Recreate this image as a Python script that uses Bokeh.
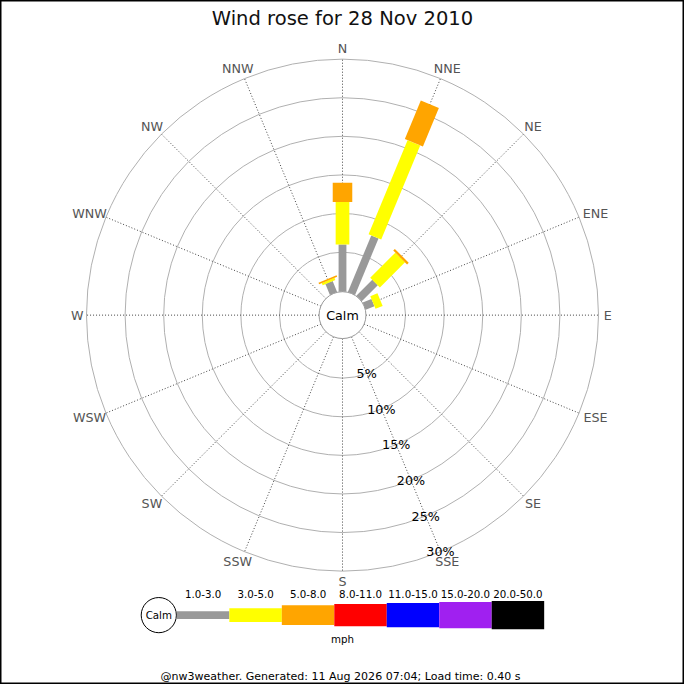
import math
from bokeh.plotting import figure
from bokeh.models import Range1d
from bokeh.core.properties import value
from bokeh.embed import file_html
from bokeh.resources import INLINE

title = "Wind rose for 28 Nov 2010"
footer = "@nw3weather. Generated: 11 Aug 2026 07:04; Load time: 0.40 s"

directions = ["N", "NNE", "NE", "ENE", "E", "ESE", "SE", "SSE",
              "S", "SSW", "SW", "WSW", "W", "WNW", "NW", "NNW"]
speed_bands = ["1.0-3.0", "3.0-5.0", "5.0-8.0", "8.0-11.0",
               "11.0-15.0", "15.0-20.0", "20.0-50.0"]
band_colors = ["#999999", "#ffff00", "#ffa500", "#ff0000",
               "#0000ff", "#a020f0", "#000000"]

# percent of the day's readings, per direction, for each speed band (mph)
pct_1_3 = [6.0, 7.8, 2.8, 1.1, 0, 0, 0, 0, 0, 0, 0, 0, 0, 0, 0, 1.4]
pct_3_5 = [5.5, 13.2, 4.6, 1.0, 0, 0, 0, 0, 0, 0, 0, 0, 0, 0, 0, 0.3]
pct_5_8 = [2.5, 5.4, 0.3, 0, 0, 0, 0, 0, 0, 0, 0, 0, 0, 0, 0, 0.2]
pct_8_11 = [0, 0, 0, 0, 0, 0, 0, 0, 0, 0, 0, 0, 0, 0, 0, 0]
pct_11_15 = [0, 0, 0, 0, 0, 0, 0, 0, 0, 0, 0, 0, 0, 0, 0, 0]
pct_15_20 = [0, 0, 0, 0, 0, 0, 0, 0, 0, 0, 0, 0, 0, 0, 0, 0]
pct_20_50 = [0, 0, 0, 0, 0, 0, 0, 0, 0, 0, 0, 0, 0, 0, 0, 0]
band_pcts = [pct_1_3, pct_3_5, pct_5_8, pct_8_11, pct_11_15, pct_15_20, pct_20_50]

ring_pcts = [5, 10, 15, 20, 25, 30]
ring_labels = ["5%", "10%", "15%", "20%", "25%", "30%"]

# geometry: 700 data units across the 684 px canvas, origin at the rose centre
SIZE = 684
S = SIZE / 700.0
R0 = 25.0          # radius of 0 %
K = 7.9            # units per percent
CALM_R = 24.0
BAR_W = [8, 14, 20, 23, 25, 27, 29]
FONT = value("DejaVu Sans")


def fs(px):
    return "%.2fpx" % (px * S)


def rad(pct):
    return R0 + pct * K


R_OUT = rad(ring_pcts[-1])

p = figure(width=SIZE, height=SIZE, x_range=Range1d(-350, 350), y_range=Range1d(-378, 322),
           x_axis_type=None, y_axis_type=None, toolbar_location=None,
           output_backend="svg", min_border=0)
p.grid.visible = False
p.outline_line_color = "black"
p.outline_line_width = 2
p.background_fill_color = "white"
p.border_fill_color = "white"

# rings
p.circle(x=[0] * len(ring_pcts), y=[0] * len(ring_pcts), radius=[rad(v) for v in ring_pcts],
         fill_color=None, line_color="#b0b0b0", line_width=1)

# spokes
angles = [math.radians(i * 22.5) for i in range(len(directions))]
sx = [math.sin(a) for a in angles]
cy = [math.cos(a) for a in angles]
p.segment(x0=[CALM_R * s for s in sx], y0=[CALM_R * c for c in cy],
          x1=[R_OUT * s for s in sx], y1=[R_OUT * c for c in cy],
          line_color="#444444", line_width=1, line_dash="1 2")

# stacked bars
xs, ys, cols = [], [], []
for i in range(len(directions)):
    s, c = sx[i], cy[i]
    cum = 0.0
    for b, vals in enumerate(band_pcts):
        v = vals[i]
        if v <= 0:
            continue
        r0, r1 = rad(cum), rad(cum + v)
        if cum == 0:
            r0 = CALM_R
        hw = BAR_W[b] / 2.0
        xs.append([r0 * s + hw * c, r1 * s + hw * c, r1 * s - hw * c, r0 * s - hw * c])
        ys.append([r0 * c - hw * s, r1 * c - hw * s, r1 * c + hw * s, r0 * c + hw * s])
        cols.append(band_colors[b])
        cum += v
p.patches(xs=xs, ys=ys, fill_color=cols, line_color=None)

# calm circle
p.circle(x=[0], y=[0], radius=CALM_R, fill_color="white", line_color="#999999", line_width=1)
p.text(x=[0], y=[0], text=["Calm"], text_font=FONT, text_font_size=fs(13),
       text_align="center", text_baseline="middle", text_color="black")

# direction labels
LR = 267
lab_x, lab_y = [], []
for i, d in enumerate(directions):
    w = 13 * 0.68 * len(d) / 2.0
    lab_x.append(LR * sx[i] + w * sx[i])
    lab_y.append(LR * cy[i] + 6 * cy[i])
p.text(x=lab_x, y=lab_y, text=directions, text_font=FONT, text_font_size=fs(13),
       text_align="center", text_baseline="middle", text_color="#555555")

# percentage labels along SSE spoke
a_lab = math.radians(157.5)
p.text(x=[rad(v) * math.sin(a_lab) for v in ring_pcts],
       y=[rad(v) * math.cos(a_lab) for v in ring_pcts],
       text=ring_labels, text_font=FONT, text_font_size=fs(13),
       text_align="center", text_baseline="middle", text_color="black")

# title
p.text(x=[0], y=[304], text=[title], text_font=FONT, text_font_size=fs(20),
       text_align="center", text_baseline="middle", text_color="#111111")

# legend
LEG_Y = -307
LEG_X0 = -169.5
SEG = 53.7
p.circle(x=[-188], y=[LEG_Y], radius=18, fill_color="white", line_color="black", line_width=1)
p.text(x=[-188], y=[LEG_Y], text=["Calm"], text_font=FONT, text_font_size=fs(10.5),
       text_align="center", text_baseline="middle", text_color="black")
lefts = [LEG_X0 + i * SEG for i in range(len(speed_bands))]
p.quad(left=lefts, right=[l + SEG for l in lefts],
       bottom=[LEG_Y - w / 2.0 for w in BAR_W], top=[LEG_Y + w / 2.0 for w in BAR_W],
       fill_color=band_colors, line_color=None)
p.text(x=[l + SEG / 2.0 for l in lefts], y=[LEG_Y + 22] * len(lefts), text=speed_bands,
       text_font=FONT, text_font_size=fs(10.5), text_align="center",
       text_baseline="middle", text_color="black")
p.text(x=[0], y=[LEG_Y - 24], text=["mph"], text_font=FONT, text_font_size=fs(10.5),
       text_align="center", text_baseline="middle", text_color="black")

# footer
p.text(x=[-2], y=[-370], text=[footer], text_font=FONT, text_font_size=fs(11.3),
       text_align="center", text_baseline="middle", text_color="black")

open("out.html", "w").write(file_html(p, INLINE))
